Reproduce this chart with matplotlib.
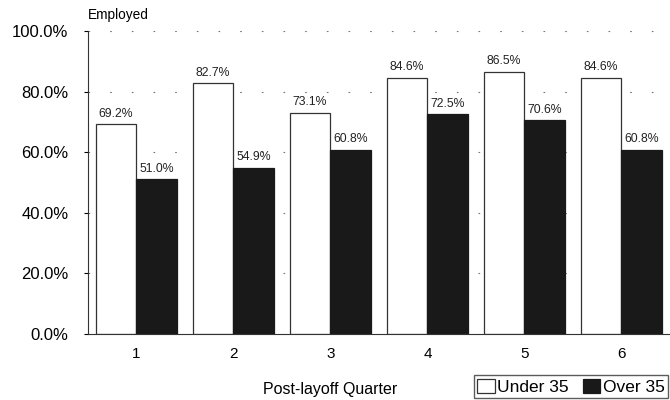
import numpy as np
import matplotlib.pyplot as plt
from matplotlib.ticker import PercentFormatter

quarters = ["1", "2", "3", "4", "5", "6"]
under_35 = [69.2, 82.7, 73.1, 84.6, 86.5, 84.6]
over_35 = [51.0, 54.9, 60.8, 72.5, 70.6, 60.8]

plt.rcParams['font.family'] = ['Liberation Sans', 'DejaVu Sans']

fig = plt.figure(figsize=(6.7, 4.0), dpi=100)
ax = fig.add_axes([0.131, 0.165, 0.869, 0.7575])

x = np.arange(1, len(quarters) + 1)
w = 0.42
b1 = ax.bar(x - w / 2, under_35, w, color="white", edgecolor="#333333", linewidth=0.9,
            label="Under 35", zorder=2)
b2 = ax.bar(x + w / 2, over_35, w, color="#191919", edgecolor="#191919", linewidth=0.9,
            label="Over 35", zorder=2)

for bars, vals in ((b1, under_35), (b2, over_35)):
    for r, v in zip(bars, vals):
        ax.text(r.get_x() + r.get_width() / 2, v + 1.5, f"{v:.1f}%", ha="center", va="bottom",
                fontsize=8.8, color="#222222")

ax.set_xlim(0.5, 6.5)
ax.set_ylim(0, 100)
ax.set_yticks(np.arange(0, 101, 20))
ax.yaxis.set_major_formatter(PercentFormatter(decimals=1))
ax.set_xticks(x)
ax.set_xticklabels(quarters)
ax.tick_params(axis="x", length=0, labelsize=11, pad=9)
ax.tick_params(axis="y", length=3, labelsize=12, pad=11)
ax.grid(axis="y", color="#777777", linestyle=(0, (1.5, 18)), linewidth=0.8, zorder=0)
for s in ("top", "right"):
    ax.spines[s].set_visible(False)
ax.spines["left"].set_color("#333333")
ax.spines["bottom"].set_color("#333333")

ax.text(0.0, 1.03, "Employed", transform=ax.transAxes, fontsize=9.8, va="bottom", ha="left")
ax.set_xlabel("Post-layoff Quarter", fontsize=11.5)
ax.xaxis.set_label_coords(0.417, -0.16)

leg = fig.legend(loc="lower right", bbox_to_anchor=(1.0, 0.0), ncol=2, fontsize=12.5,
                 frameon=True, fancybox=False, edgecolor="#333333", handlelength=1.0,
                 handleheight=0.9, handletextpad=0.15, columnspacing=0.8, borderpad=0.2,
                 borderaxespad=0.1)

fig.savefig("out.png", dpi=100)
